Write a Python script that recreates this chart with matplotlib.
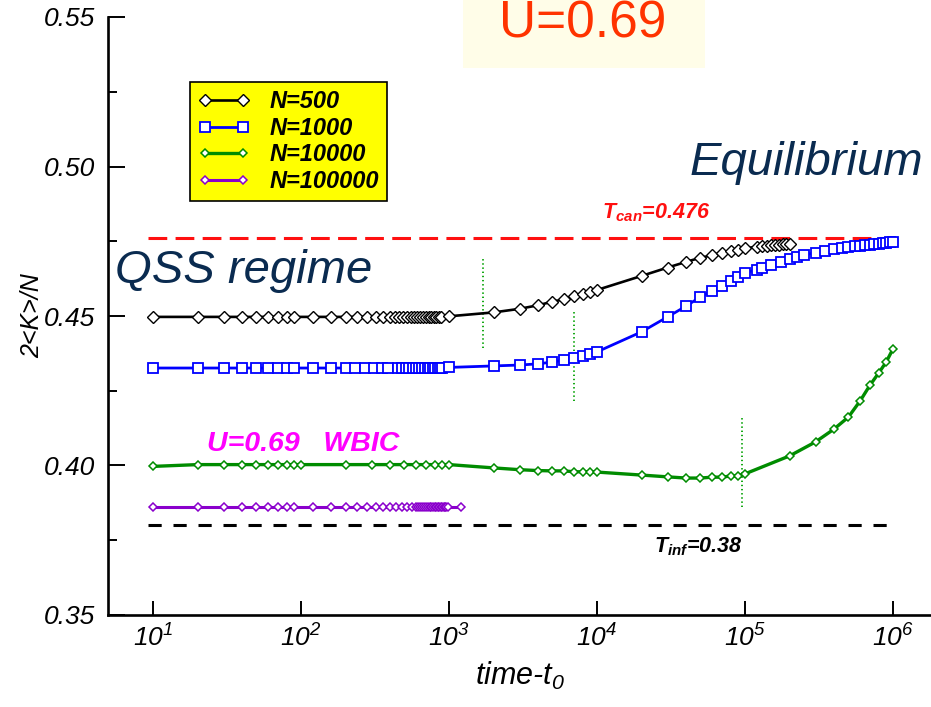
import matplotlib
matplotlib.use('Agg')
import matplotlib.pyplot as plt
from matplotlib.patches import Rectangle

# ---------------- data ----------------
black_t = [10, 20, 30, 40, 50, 60, 70, 80, 90,
           120, 160, 200, 240, 280, 320, 360, 400,
           430, 460, 490, 520, 550, 580, 610, 640, 670, 700, 730, 760, 790, 820, 850, 880,
           1000, 2000, 3000, 4000, 5000, 6000, 7000, 8000, 9000,
           10000, 20000, 30000, 40000, 50000, 60000, 70000, 80000, 90000,
           100000, 120000, 130000, 140000, 150000, 160000, 170000, 180000, 190000, 200000]
black_v = [0.4497, 0.4497, 0.4497, 0.4497, 0.4497, 0.4497, 0.4497, 0.4497, 0.4497,
           0.4497, 0.4497, 0.4497, 0.4497, 0.4497, 0.4497, 0.4497, 0.4497,
           0.4497, 0.4497, 0.4497, 0.4497, 0.4497, 0.4497, 0.4497, 0.4497, 0.4497, 0.4497,
           0.4497, 0.4497, 0.4498, 0.4498, 0.4498, 0.4498,
           0.4499, 0.4512, 0.4524, 0.4536, 0.4548, 0.4556, 0.4566, 0.4573, 0.4580,
           0.4587, 0.4634, 0.4662, 0.4681, 0.4695, 0.4703, 0.4712, 0.4718, 0.4722,
           0.4727, 0.4731, 0.4733, 0.4735, 0.4737, 0.4738, 0.4739, 0.4740, 0.4741, 0.4742]

blue_t = [10, 20, 30, 40, 50, 60, 70, 80, 90,
          120, 160, 200, 230, 270, 310, 350, 390,
          450, 480, 510, 540, 570, 600, 630, 660, 690, 720, 750, 780, 810, 840, 870, 900,
          1000, 2000, 3000, 4000, 5000, 6000, 7000, 8000, 9000,
          10000, 20000, 30000, 40000, 50000, 60000, 70000, 80000, 90000,
          100000, 120000, 130000, 150000, 175000, 200000, 225000, 250000, 300000,
          350000, 400000, 450000, 500000, 550000, 600000, 650000, 700000, 750000,
          800000, 850000, 900000, 950000, 1000000]
blue_v = [0.4326, 0.4326, 0.4326, 0.4326, 0.4326, 0.4326, 0.4326, 0.4326, 0.4326,
          0.4326, 0.4326, 0.4326, 0.4326, 0.4326, 0.4326, 0.4326, 0.4326,
          0.4326, 0.4326, 0.4326, 0.4326, 0.4326, 0.4326, 0.4326, 0.4326, 0.4326, 0.4326,
          0.4326, 0.4326, 0.4327, 0.4327, 0.4327, 0.4327,
          0.4328, 0.4333, 0.4336, 0.4340, 0.4346, 0.4353, 0.4360, 0.4366, 0.4373,
          0.4380, 0.4447, 0.4497, 0.4533, 0.4564, 0.4584, 0.4600, 0.4617, 0.4630,
          0.4644, 0.4655, 0.4662, 0.4672, 0.4682, 0.4690, 0.4697, 0.4704, 0.4712,
          0.4718, 0.4723, 0.4727, 0.4730, 0.4733, 0.4735, 0.4737, 0.4739, 0.4741,
          0.4742, 0.4743, 0.4745, 0.4746, 0.4747]

green_t = [10, 20, 30, 40, 50, 60, 70, 80, 90, 100,
           200, 300, 400, 500, 600, 700, 800, 900, 1000,
           2000, 3000, 4000, 5000, 6000, 7000, 8000, 9000, 10000,
           20000, 30000, 40000, 50000, 60000, 70000, 80000, 90000, 100000,
           200000, 300000, 400000, 500000, 600000, 700000, 800000, 900000, 1000000]
green_v = [0.3997, 0.4003, 0.4003, 0.4003, 0.4003, 0.4003, 0.4003, 0.4003, 0.4003, 0.4003,
           0.4003, 0.4003, 0.4003, 0.4003, 0.4003, 0.4003, 0.4003, 0.4003, 0.4003,
           0.3992, 0.3986, 0.3983, 0.3982, 0.3982, 0.3979, 0.3979, 0.3979, 0.3978,
           0.3968, 0.3962, 0.3958, 0.3958, 0.3961, 0.3961, 0.3965, 0.3965, 0.3972,
           0.4032, 0.4079, 0.4122, 0.4162, 0.4216, 0.4269, 0.4309, 0.4346, 0.4390]

purple_t = [10, 20, 30, 40, 50, 60, 70, 80, 90,
            120, 160, 200, 240, 280, 320, 360, 400, 440, 480, 520, 560,
            600, 620, 640, 660, 680, 700, 720, 740, 760, 780, 800, 820, 840, 860,
            880, 900, 920, 940, 960, 980, 1200]
purple_v = [0.3861, 0.3861, 0.3861, 0.3861, 0.3861, 0.3861, 0.3861, 0.3861, 0.3861,
            0.3861, 0.3861, 0.3861, 0.3861, 0.3861, 0.3861, 0.3861, 0.3861, 0.3861,
            0.3861, 0.3861, 0.3861,
            0.3861, 0.3861, 0.3861, 0.3861, 0.3861, 0.3861, 0.3861, 0.3861, 0.3861,
            0.3861, 0.3861, 0.3861, 0.3861, 0.3861, 0.3861, 0.3861, 0.3861, 0.3861,
            0.3861, 0.3861, 0.3861]

series_labels = ['N=500', 'N=1000', 'N=10000', 'N=100000']

vline_t = [1700, 7000, 95000]
vline_lo = [0.4394, 0.4217, 0.3861]
vline_hi = [0.4694, 0.4513, 0.4159]

t_can = 0.476
t_inf = 0.38
ref_t = [9.3, 1000000]

xtick_vals = [1e1, 1e2, 1e3, 1e4, 1e5, 1e6]
xtick_labels = [r'$10^{1}$', r'$10^{2}$', r'$10^{3}$', r'$10^{4}$', r'$10^{5}$', r'$10^{6}$']
ytick_vals = [0.35, 0.40, 0.45, 0.50, 0.55]
ytick_labels = ['0.35', '0.40', '0.45', '0.50', '0.55']
yminor_vals = [0.375, 0.425, 0.475, 0.525]

# ---------------- style ----------------
plt.rcParams['font.family'] = ['Liberation Sans', 'DejaVu Sans']
plt.rcParams['mathtext.fontset'] = 'custom'
plt.rcParams['mathtext.rm'] = 'Liberation Sans:italic'
plt.rcParams['mathtext.it'] = 'Liberation Sans:italic'
plt.rcParams['mathtext.bf'] = 'Liberation Sans:bold:italic'
plt.rcParams['lines.scale_dashes'] = False

W, H = 931, 707
fig = plt.figure(figsize=(W / 100, H / 100), dpi=100)


def fx(x):
    return x / W


def fy(y):
    return 1 - y / H


ax = fig.add_axes([fx(108), fy(615), 1 - fx(108), (615 - 17) / H])
ax.set_xscale('log')
ax.set_xlim(10 ** 0.696, 10 ** 6.257)
ax.set_ylim(0.35, 0.55)

for s in ['top', 'right']:
    ax.spines[s].set_visible(False)
for s in ['left', 'bottom']:
    ax.spines[s].set_linewidth(1.9)

ax.set_xticks(xtick_vals)
ax.set_xticklabels(xtick_labels, fontsize=19)
ax.set_xticks([], minor=True)
ax.set_yticks(ytick_vals)
ax.set_yticklabels(ytick_labels, fontsize=19, style='italic')
ax.set_yticks(yminor_vals, minor=True)
ax.tick_params(axis='x', which='major', direction='in', length=10, width=1.4, pad=7)
ax.tick_params(axis='y', which='major', direction='in', length=12, width=1.4, pad=9)
ax.tick_params(axis='y', which='minor', direction='in', length=6.5, width=1.4)

ax.set_xlabel(r'time-$t_{0}$', fontsize=22, style='italic', labelpad=6)
ax.set_ylabel('2<K>/N', fontsize=18, style='italic', labelpad=0)

# reference lines
ax.plot(ref_t, [t_can, t_can], color='#ff1010', lw=2.2, dashes=(13.5, 6.0), zorder=2)
ax.plot(ref_t, [t_inf, t_inf], color='black', lw=2.2, dashes=(9.5, 8.5), zorder=2)

# vertical dotted markers
for t, lo, hi in zip(vline_t, vline_lo, vline_hi):
    ax.plot([t, t], [lo, hi], color='#00a000', lw=1.3, ls=(0, (1, 2)), zorder=2)

h_black, = ax.plot(black_t, black_v, color='black', lw=1.9, marker='D', ms=6.3,
                   mfc='white', mec='black', mew=1.0, zorder=5)
h_blue, = ax.plot(blue_t, blue_v, color='#0000ff', lw=2.0, marker='s', ms=7.0,
                  mfc='white', mec='#0000ff', mew=1.3, zorder=4)
h_green, = ax.plot(green_t, green_v, color='#008c00', lw=2.4, marker='D', ms=3.8,
                   mfc='white', mec='#008c00', mew=1.1, zorder=4)
h_purple, = ax.plot(purple_t, purple_v, color='#8a00cc', lw=2.2, marker='D', ms=3.8,
                    mfc='white', mec='#8a00cc', mew=1.1, zorder=4)

# legend
leg = fig.legend([h_black, h_blue, h_green, h_purple], series_labels,
                 loc='upper left', bbox_to_anchor=(fx(190), fy(82)),
                 bbox_transform=fig.transFigure, borderaxespad=0,
                 frameon=True, fancybox=False, framealpha=1,
                 facecolor='#ffff00', edgecolor='black', numpoints=2,
                 handlelength=2.2, handletextpad=0.8, labelspacing=0.15,
                 borderpad=0.35,
                 prop={'family': 'Liberation Sans', 'weight': 'bold',
                       'style': 'italic', 'size': 17})
leg.get_frame().set_linewidth(1.2)

# annotation texts
fig.patches.append(Rectangle((fx(463), fy(68)), fx(705) - fx(463), 68 / H,
                             transform=fig.transFigure, facecolor='#fffde8',
                             edgecolor='none', zorder=0))
fig.text(fx(499), fy(37), 'U=0.69', color='#ff3300', fontsize=37,
         ha='left', va='baseline')
fig.text(fx(690), fy(175), 'Equilibrium', color='#0a2b50', fontsize=34,
         style='italic', ha='left', va='baseline')
fig.text(fx(115), fy(283), 'QSS regime', color='#0a2b50', fontsize=34,
         style='italic', ha='left', va='baseline')
fig.text(fx(207), fy(451), 'U=0.69   WBIC', color='#ff00ff', fontsize=20.5,
         weight='bold', style='italic', ha='left', va='baseline')
fig.text(fx(602), fy(218), r'$\mathbf{T_{can}}$=0.476', color='#ff1010',
         fontsize=15.5, weight='bold', style='italic', ha='left', va='baseline')
fig.text(fx(654), fy(552), r'$\mathbf{T_{inf}}$=0.38', color='black',
         fontsize=15.5, weight='bold', style='italic', ha='left', va='baseline')

fig.savefig('out.png', dpi=100)
